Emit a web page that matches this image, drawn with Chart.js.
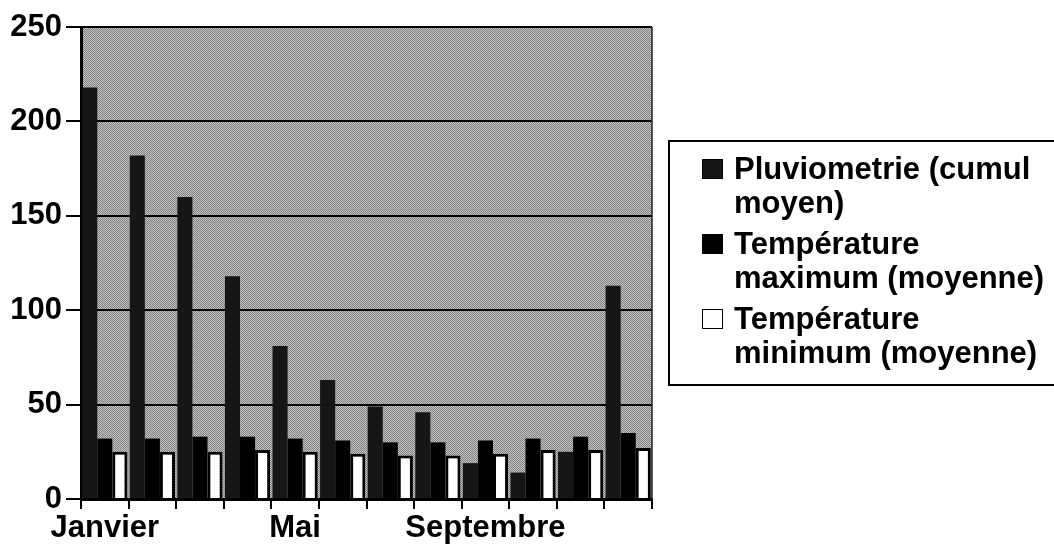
<!DOCTYPE html>
<html>
<head>
<meta charset="utf-8">
<script src="https://cdn.jsdelivr.net/npm/chart.js@4"></script>
<style>
  body { margin: 0; background: #fff; overflow: hidden; }
  #wrap { position: relative; width: 1054px; height: 549px; }
  #legend {
    position: absolute; left: 668px; top: 140px; width: 420px; height: 246px;
    border: 2px solid #000; box-sizing: border-box;
    font: bold 31px "Liberation Sans", Arial, sans-serif; color: #000;
  }
  .item { position: relative; padding-left: 64px; line-height: 34px; margin-top: 7px; }
  .item:first-child { margin-top: 10px; }
  .box { position: absolute; left: 32px; top: 7px; width: 21px; height: 20px; border: 1px solid #000; box-sizing: border-box; }
</style>
</head>
<body>
<div id="wrap">
  <canvas id="chart" width="1054" height="549"></canvas>
  <div id="legend"></div>
</div>
<script>
const months = ['Janvier', 'Février', 'Mars', 'Avril', 'Mai', 'Juin', 'Juillet', 'Août', 'Septembre', 'Octobre', 'Novembre', 'Décembre'];
const pluviometrie = [218, 182, 160, 118, 81, 63, 49, 46, 19, 14, 25, 113];
const tempMax = [32, 32, 33, 33, 32, 31, 30, 30, 31, 32, 33, 35];
const tempMin = [25, 25, 25, 26, 25, 24, 23, 23, 24, 26, 26, 27];
const seriesNames = [
  ['Pluviometrie (cumul', 'moyen)'],
  ['Température', 'maximum (moyenne)'],
  ['Température', 'minimum (moyenne)']
];

const font = { family: '"Liberation Sans", Arial, sans-serif', size: 31, weight: 'bold' };

// dithered grey like the scanned plot area
const tile = document.createElement('canvas');
tile.width = 2;
tile.height = 2;
const tctx = tile.getContext('2d');
tctx.fillStyle = '#c4c4c4';
tctx.fillRect(0, 0, 2, 2);
tctx.fillStyle = '#808080';
tctx.fillRect(0, 0, 1, 1);
tctx.fillRect(1, 1, 1, 1);

const plotBackground = {
  id: 'plotBackground',
  beforeDraw(chart) {
    const { ctx, chartArea } = chart;
    ctx.save();
    ctx.fillStyle = ctx.createPattern(tile, 'repeat');
    ctx.fillRect(chartArea.left, chartArea.top, chartArea.right - chartArea.left, chartArea.bottom - chartArea.top);
    ctx.restore();
  },
  afterDraw(chart) {
    const { ctx, chartArea } = chart;
    ctx.save();
    ctx.strokeStyle = '#222';
    ctx.lineWidth = 1.5;
    ctx.beginPath();
    ctx.moveTo(chartArea.right, chartArea.top);
    ctx.lineTo(chartArea.right, chartArea.bottom);
    ctx.stroke();
    ctx.restore();
  }
};

const chart = new Chart(document.getElementById('chart').getContext('2d'), {
  type: 'bar',
  data: {
    labels: months,
    datasets: [
      { label: seriesNames[0].join(' '), data: pluviometrie, backgroundColor: '#161616', borderWidth: 0 },
      { label: seriesNames[1].join(' '), data: tempMax, backgroundColor: '#000', borderWidth: 0 },
      { label: seriesNames[2].join(' '), data: tempMin, backgroundColor: '#fff', borderColor: '#000', borderWidth: 3 }
    ]
  },
  options: {
    responsive: false,
    animation: false,
    layout: { padding: { top: 27, right: 402, left: 0, bottom: 0 } },
    datasets: { bar: { categoryPercentage: 0.95, barPercentage: 1.0 } },
    scales: {
      x: {
        grid: { offset: true, drawOnChartArea: false, tickLength: 10, color: '#000', lineWidth: 2 },
        border: { color: '#000', width: 3 },
        ticks: {
          autoSkip: false,
          maxRotation: 0,
          color: '#000',
          font: font,
          padding: 1,
          callback: (value, index) => (index % 4 === 0 ? months[index] : '')
        },
        afterFit: (scale) => { scale.height = 50; }
      },
      y: {
        min: 0,
        max: 250,
        grid: { color: '#000', lineWidth: 2, tickLength: 15 },
        border: { color: '#000', width: 3 },
        ticks: { stepSize: 50, color: '#000', font: font, padding: 4 },
        afterFit: (scale) => { scale.width = 81; }
      }
    },
    plugins: {
      legend: { display: false },
      tooltip: { enabled: false }
    }
  },
  plugins: [plotBackground]
});

// legend drawn as html so the labels can wrap like the original
const legend = document.getElementById('legend');
chart.data.datasets.forEach((ds, i) => {
  const item = document.createElement('div');
  item.className = 'item';
  const box = document.createElement('span');
  box.className = 'box';
  box.style.background = ds.backgroundColor;
  item.appendChild(box);
  seriesNames[i].forEach((line, j) => {
    if (j > 0) item.appendChild(document.createElement('br'));
    item.appendChild(document.createTextNode(line));
  });
  legend.appendChild(item);
});
</script>
</body>
</html>
